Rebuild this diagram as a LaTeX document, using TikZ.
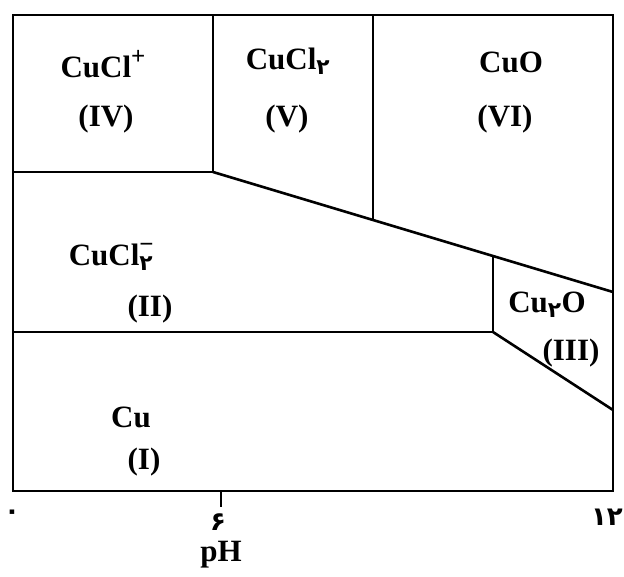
\documentclass[tikz,border=0pt]{standalone}
\usepackage{fontspec}
\setmainfont{Liberation Serif}
\newfontfamily\arabicfont[Script=Arabic]{DejaVu Sans}
\newcommand{\fa}[1]{{\arabicfont #1}}
\newcommand{\chg}[1]{\raisebox{0.4em}{\fontsize{25}{25}\selectfont #1}}

\tikzset{
  phase/.style={font=\fontsize{31}{36}\selectfont\bfseries, inner sep=0pt},
  digit/.style={font=\fontsize{26}{30}\selectfont\bfseries\arabicfont, inner sep=0pt},
  bound/.style={line width=2.6pt, line join=miter}
}

\begin{document}
\begin{tikzpicture}[x=1pt,y=-1pt]
  \useasboundingbox[fill=white] (0,0) rectangle (624,576);
  % frame and phase boundaries
  \coordinate (NW) at (13,15);
  \coordinate (NE) at (613,15);
  \coordinate (SE) at (613,491);
  \coordinate (SW) at (13,491);
  \coordinate (A) at (213,15);
  \coordinate (B) at (213,172);
  \coordinate (C) at (13,172);
  \coordinate (D) at (373,15);
  \coordinate (E) at (373,220);
  \coordinate (F) at (613,292);
  \coordinate (G) at (493,256);
  \coordinate (H) at (493,332);
  \coordinate (K) at (13,332);
  \coordinate (L) at (613,410);
  \coordinate (T) at (221,491);
  \coordinate (T') at (221,507);
  \draw[bound] (NW) rectangle (SE);
  \draw[bound] (A) -- (B) -- (C);
  \draw[bound] (D) -- (E);
  \draw[bound] (B) -- (F);
  \draw[bound] (G) -- (H) -- (K);
  \draw[bound] (H) -- (L);
  \draw[line width=1.2pt] (T) -- (T');

  \node[phase] (n4) at (103,64) {CuCl\chg{+}};
  \node[phase] (r4) at (106,119) {(IV)};
  \node[phase] (n5) at (288,61) {CuCl\textsubscript{\fa{۲}}};
  \node[phase] (r5) at (287,119) {(V)};
  \node[phase] (n6) at (511,62) {CuO};
  \node[phase] (r6) at (505,119) {(VI)};
  \node[phase] (n2) at (111,257) {CuCl\rlap{\chg{−}}\textsubscript{\fa{۲}}};
  \node[phase] (r2) at (150,309) {(II)};
  \node[phase] (n3) at (547,305) {Cu\textsubscript{\fa{۲}}O};
  \node[phase] (r3) at (571,353) {(III)};
  \node[phase] (n1) at (131,417) {Cu};
  \node[phase] (r1) at (144,462) {(I)};

  \node[digit] (x0) at (12,515) {۰};
  \node[digit] (x6) at (218,522) {۶};
  \node[digit,anchor=east] (x12) at (623,517) {۱۲};
  \node[phase] (ph) at (221,555) {pH};
\end{tikzpicture}
\end{document}
